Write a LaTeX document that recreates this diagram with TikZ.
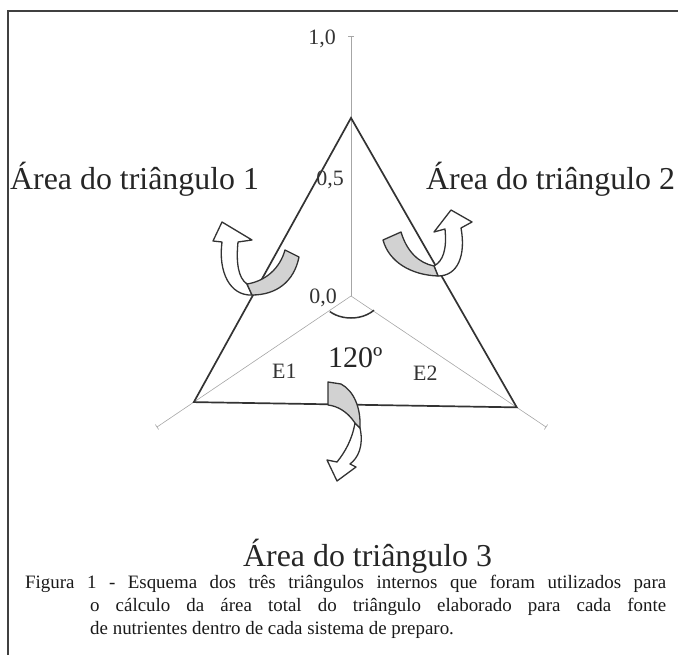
\documentclass[tikz,border=0pt]{standalone}
\usepackage{fontspec}
\setmainfont{Liberation Serif}
\usetikzlibrary{positioning,calc}

\tikzset{
  axisline/.style={black!35, line width=0.6bp},
  edge/.style={black!80, line width=1.7bp},
  ribbon/.style={draw=black!80, line width=1.3bp, line join=round},
  arealabel/.style={inner sep=0pt, text=black!85, font=\fontsize{32}{38}\selectfont},
  scalelabel/.style={inner sep=0pt, text=black!80, font=\fontsize{22}{26}\selectfont},
  captionline/.style={inner sep=0pt, anchor=base west, text=black!90, font=\fontsize{19}{23}\selectfont}
}

\begin{document}
\begin{tikzpicture}[x=1bp,y=-1bp]
		\useasboundingbox (0,0) rectangle (678,655);

		% frame
		\coordinate (fb) at (8,655);
		\coordinate (ft) at (8,11);
		\coordinate (fr) at (678,11);
		\draw[black!75, line width=2bp] (fb) -- (ft) -- (fr);

		% axes
		\coordinate (O) at (351,296);
		\coordinate (Y) at (351,36);
		\coordinate (L) at (157,427);
		\coordinate (R) at (546,427);
		\draw[axisline] (O) -- (Y);
		\draw[axisline] (O) -- (L);
		\draw[axisline] (O) -- (R);
		\draw[axisline] ($(Y)!3bp!90:(O)$) -- ($(Y)!3bp!-90:(O)$);
		\draw[axisline] ($(L)!3bp!90:(O)$) -- ($(L)!3bp!-90:(O)$);
		\draw[axisline] ($(R)!3bp!90:(O)$) -- ($(R)!3bp!-90:(O)$);

		\node[scalelabel, anchor=base east] (s10) at (336,45) {1,0};
		\node[scalelabel, anchor=base east] (s05) at (344,185) {0,5};
		\node[scalelabel, anchor=base east] (s00) at (337,303) {0,0};

		% triangle
		\coordinate (A) at ($(O)!0.685!(Y)$);
		\coordinate (B) at ($(O)!0.81!(L)$);
		\coordinate (C) at ($(O)!0.85!(R)$);
		\draw[edge, line join=miter] (A) -- (B) -- (C) -- cycle;

		% angle
		\draw[black!80, line width=1.5bp] (O) ++(135:30 and 22) arc[start angle=135, end angle=40, x radius=30, y radius=22];
		\node[inner sep=0pt, anchor=base west, text=black!85, font=\fontsize{30}{36}\selectfont] (ang) at (328,367) {120º};
		\node[scalelabel, font=\fontsize{22}{26}\selectfont, anchor=base west] (e1) at (272,378) {E1};
		\node[scalelabel, font=\fontsize{22}{26}\selectfont, anchor=base west] (e2) at (413,380) {E2};

		% arrow 1
		\draw[ribbon, fill=white] (252,295) .. controls (230,296) and (218,272) .. (222,242) -- (213,241) -- (222,222) -- (252,240) -- (238,242) .. controls (236,262) and (238,278) .. (247,284) -- cycle;
		\draw[ribbon, fill=gray!35] (247,284) .. controls (266,281) and (280,268) .. (285,250) -- (299,257) .. controls (294,282) and (276,295) .. (252,295) -- cycle;

		% arrow 2
		\draw[ribbon, fill=white] (438,276) .. controls (458,276) and (466,255) .. (461,228) -- (472,222) -- (451,210) -- (434,232) -- (445,229) .. controls (447,250) and (443,261) .. (434,266) -- cycle;
		\draw[ribbon, fill=gray!35] (383,240) -- (401,232) .. controls (407,252) and (419,263) .. (434,266) -- (438,276) .. controls (411,275) and (389,262) .. (383,240) -- cycle;

		% arrow 3
		\draw[ribbon, fill=white] (360,428) .. controls (364,446) and (358,458) .. (350,464) -- (356,467) -- (337,481) -- (327,460) -- (337,462) .. controls (345,452) and (352,440) .. (355,423) -- cycle;
		\draw[ribbon, fill=gray!35] (328,382) -- (341,384) .. controls (354,391) and (361,408) .. (360,428) -- (355,423) .. controls (347,411) and (337,406) .. (328,405) -- cycle;

		% labels
		\node[arealabel, anchor=base west] (t1) at (10,189) {Área do triângulo 1};
		\node[arealabel, anchor=base west] (t2) at (426,189) {Área do triângulo 2};
		\node[arealabel, anchor=base west] (t3) at (243,566) {Área do triângulo 3};

		% caption
		\node[captionline] (c1) at (25,588) {\makebox[641bp][s]{Figura 1 - Esquema dos três triângulos internos que foram utilizados para}};
		\node[captionline] (c2) at (90,611) {\makebox[576bp][s]{o cálculo da área total do triângulo elaborado para cada fonte}};
		\node[captionline] (c3) at (90,634) {de nutrientes dentro de cada sistema de preparo.};
	\end{tikzpicture}
\end{document}
